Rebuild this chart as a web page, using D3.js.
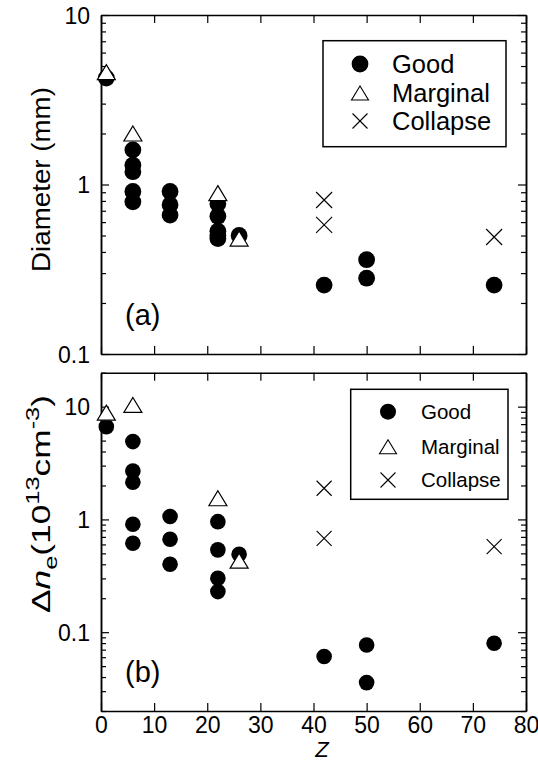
<!DOCTYPE html>
<html>
<head>
<meta charset="utf-8">
<script src="https://cdn.jsdelivr.net/npm/d3@7"></script>
<style>
  body { margin: 0; background: #fff; }
  svg text { font-family: "Liberation Sans", Arial, sans-serif; fill: #000; }
</style>
</head>
<body>
<div id="viz"></div>
<script>
const zTicks = [0, 10, 20, 30, 40, 50, 60, 70, 80]
const legendLabels = ["Good", "Marginal", "Collapse"]

// (a) diameter in mm, [Z, value]
const diaGood = [[1, 4.25], [6, 1.6], [6, 1.3], [6, 1.19], [6, 0.91], [6, 0.79],
  [13, 0.91], [13, 0.76], [13, 0.66], [22, 0.77], [22, 0.65], [22, 0.53], [22, 0.5], [22, 0.48],
  [26, 0.5], [42, 0.255], [50, 0.36], [50, 0.28], [74, 0.255]]
const diaMarginal = [[1, 4.6], [6, 2.0], [22, 0.89], [26, 0.48]]
const diaCollapse = [[42, 0.81], [42, 0.577], [74, 0.49]]

// (b) delta n_e in 1e13 cm^-3, [Z, value]
const neGood = [[1, 6.65], [6, 4.9], [6, 2.69], [6, 2.14], [6, 0.906], [6, 0.615],
  [13, 1.06], [13, 0.667], [13, 0.40], [22, 0.955], [22, 0.537], [22, 0.301], [22, 0.229],
  [26, 0.491], [42, 0.0608], [50, 0.077], [50, 0.0357], [74, 0.0798]]
const neMarginal = [[1, 8.85], [6, 10.35], [22, 1.54], [26, 0.431]]
const neCollapse = [[42, 1.89], [42, 0.68], [74, 0.574]]

const svg = d3.select("#viz").append("svg").attr("width", 538).attr("height", 780)

const x = d3.scaleLinear().domain([0, 80]).range([101, 526])

const triPath = (w, h) => `M0,${-h / 2}L${w / 2},${h / 2}L${-w / 2},${h / 2}Z`
const crossPath = (s) => `M${-s},${-s}L${s},${s}M${-s},${s}L${s},${-s}`

const panels = [
  {
    y: d3.scaleLog().domain([0.1, 10]).range([354, 15]),
    good: diaGood, marg: diaMarginal, coll: diaCollapse,
    tag: "(a)", tagY: 325, r: 8.4, tri: [18, 15], cr: 8, xLabels: false,
    legend: {x: 323, y: 40.7, w: 183, h: 106, sx: 360, tx: 392, rows: [64, 93, 121], fs: 25.5, r: 8.4}
  },
  {
    y: d3.scaleLog().domain([0.02, 20]).range([711, 372.7]),
    good: neGood, marg: neMarginal, coll: neCollapse,
    tag: "(b)", tagY: 682, r: 7.8, tri: [18, 15], cr: 7.5, xLabels: true,
    legend: {x: 350.7, y: 389.3, w: 157.3, h: 110, sx: 388, tx: 421, rows: [411.7, 446.7, 480], fs: 20.5, r: 8}
  }
]

function styleAxis(g) {
  g.select(".domain").attr("stroke", "#000").attr("stroke-width", 1.5)
  g.selectAll(".tick line").attr("stroke", "#000").attr("stroke-width", 1.2)
  g.selectAll(".tick text").style("font-size", "23px").attr("fill", "#000")
}

panels.forEach(p => {
  const y = p.y
  const [y0, y1] = y.range()
  const major = y.ticks().filter(v => Math.abs(Math.log10(v) - Math.round(Math.log10(v))) < 1e-9)
  const minor = y.ticks().filter(v => !major.includes(v))

  // x axes, bottom and top, ticks pointing in
  const xb = svg.append("g").attr("transform", `translate(0,${y0})`)
    .call(d3.axisBottom(x).tickValues(zTicks).tickSize(-8).tickSizeOuter(0).tickPadding(6)
      .tickFormat(p.xLabels ? d3.format("d") : ""))
  styleAxis(xb)
  const xt = svg.append("g").attr("transform", `translate(0,${y1})`)
    .call(d3.axisTop(x).tickValues(zTicks).tickSize(-8).tickSizeOuter(0).tickFormat(""))
  styleAxis(xt)

  // y axes, left with labels, right mirrored
  const yl = svg.append("g").attr("transform", `translate(101,0)`)
    .call(d3.axisLeft(y).tickValues(major).tickSize(-8).tickSizeOuter(0).tickPadding(11)
      .tickFormat(d => d >= 1 ? d3.format("d")(d) : String(d)))
  styleAxis(yl)
  yl.selectAll(".tick text").attr("dy", "0.36em")
  const ylm = svg.append("g").attr("transform", `translate(101,0)`)
    .call(d3.axisLeft(y).tickValues(minor).tickSize(-5).tickSizeOuter(0).tickFormat(""))
  styleAxis(ylm)
  const yr = svg.append("g").attr("transform", `translate(526,0)`)
    .call(d3.axisRight(y).tickValues(major).tickSize(-8).tickSizeOuter(0).tickFormat(""))
  styleAxis(yr)
  const yrm = svg.append("g").attr("transform", `translate(526,0)`)
    .call(d3.axisRight(y).tickValues(minor).tickSize(-5).tickSizeOuter(0).tickFormat(""))
  styleAxis(yrm)

  // points: circles first, then open triangles over them, then crosses
  svg.append("g").selectAll("circle")
    .data(p.good)
    .enter()
    .append("circle")
    .attr("cx", d => x(d[0]))
    .attr("cy", d => y(d[1]))
    .attr("r", p.r)
    .attr("fill", "#000")

  svg.append("g").selectAll("path")
    .data(p.marg)
    .enter()
    .append("path")
    .attr("transform", d => `translate(${x(d[0])},${y(d[1])})`)
    .attr("d", triPath(p.tri[0], p.tri[1]))
    .attr("fill", "#fff")
    .attr("stroke", "#000")
    .attr("stroke-width", 1.2)

  svg.append("g").selectAll("path")
    .data(p.coll)
    .enter()
    .append("path")
    .attr("transform", d => `translate(${x(d[0])},${y(d[1])})`)
    .attr("d", crossPath(p.cr))
    .attr("fill", "none")
    .attr("stroke", "#000")
    .attr("stroke-width", 1.1)

  // panel tag
  svg.append("text")
    .attr("x", 125)
    .attr("y", p.tagY)
    .style("font-size", "29px")
    .text(p.tag)

  // legend
  const L = p.legend
  const lg = svg.append("g")
  lg.append("rect")
    .attr("x", L.x).attr("y", L.y).attr("width", L.w).attr("height", L.h)
    .attr("fill", "#fff").attr("stroke", "#000").attr("stroke-width", 1.5)
  legendLabels.forEach((lab, i) => {
    const cy = L.rows[i]
    if (i == 0) {
      lg.append("circle").attr("cx", L.sx).attr("cy", cy).attr("r", L.r).attr("fill", "#000")
    } else if (i == 1) {
      lg.append("path").attr("transform", `translate(${L.sx},${cy})`)
        .attr("d", triPath(17, 14)).attr("fill", "#fff").attr("stroke", "#000").attr("stroke-width", 1.1)
    } else {
      lg.append("path").attr("transform", `translate(${L.sx},${cy})`)
        .attr("d", crossPath(7.5)).attr("fill", "none").attr("stroke", "#000").attr("stroke-width", 1.1)
    }
    lg.append("text")
      .attr("x", L.tx)
      .attr("y", cy)
      .attr("dy", "0.36em")
      .style("font-size", L.fs + "px")
      .text(lab)
  })
})

// axis titles
svg.append("text")
  .attr("x", 322)
  .attr("y", 757)
  .attr("text-anchor", "middle")
  .style("font-size", "22px")
  .style("font-style", "italic")
  .text("Z")

const titleA = svg.append("text")
  .attr("text-anchor", "middle")
  .style("font-size", "26px")
  .text("Diameter (mm)")
const lenA = titleA.node().getComputedTextLength()
titleA.attr("transform", `translate(50,179.5) rotate(-90) scale(${185 / lenA},1)`)

const titleB = svg.append("text")
  .attr("text-anchor", "middle")
  .style("font-size", "25px")
titleB.append("tspan").text("\u0394")
titleB.append("tspan").style("font-style", "italic").text("n")
titleB.append("tspan").attr("dy", 7).style("font-size", "18px").text("e")
titleB.append("tspan").attr("dy", -7).text("(10")
titleB.append("tspan").attr("dy", -11).style("font-size", "18px").text("13")
titleB.append("tspan").attr("dy", 11).text("cm")
titleB.append("tspan").attr("dy", -11).style("font-size", "18px").text("-3")
titleB.append("tspan").attr("dy", 11).text(")")
const lenB = titleB.node().getComputedTextLength()
titleB.attr("transform", `translate(50,504) rotate(-90) scale(${218 / lenB},1)`)
</script>
</body>
</html>
